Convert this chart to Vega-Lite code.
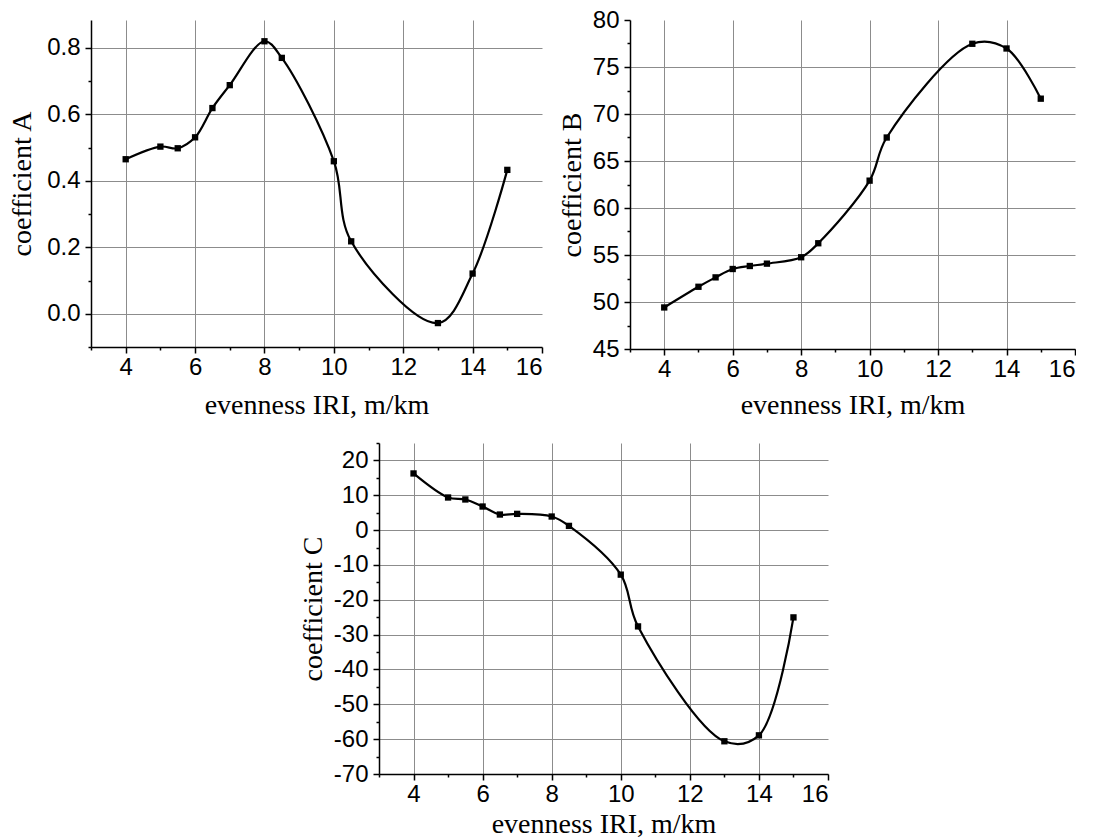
{
  "$schema": "https://vega.github.io/schema/vega-lite/v6.json",
  "background": "white",
  "padding": {"left": 8, "top": 8, "right": 0, "bottom": 0},
  "config": {
    "view": {"stroke": null},
    "axis": {
      "domainColor": "black", "domainWidth": 1.5,
      "tickColor": "black", "tickWidth": 1.5,
      "gridColor": "#8c8c8c", "gridWidth": 1,
      "labelFont": "Liberation Sans", "labelFontSize": 24, "labelColor": "black",
      "titleFont": "Liberation Serif", "titleFontSize": 28, "titleFontWeight": "normal", "titleColor": "black",
      "labelPadding": 5
    },
    "axisX": {"labelPadding": 2},
    "line": {"color": "black", "strokeWidth": 2.2, "interpolate": "catmull-rom"},
    "point": {"shape": "square", "filled": true, "color": "black", "size": 40, "opacity": 1}
  },
  "data": {"values": [
    {"iri": 4, "A": 0.465, "B": 49.42, "C": 16.26},
    {"iri": 5, "A": 0.503, "B": 51.62, "C": 9.36},
    {"iri": 5.5, "A": 0.498, "B": 52.62, "C": 8.79},
    {"iri": 6, "A": 0.531, "B": 53.51, "C": 6.77},
    {"iri": 6.5, "A": 0.619, "B": 53.83, "C": 4.47},
    {"iri": 7, "A": 0.688, "B": 54.08, "C": 4.66},
    {"iri": 8, "A": 0.82, "B": 54.76, "C": 3.9},
    {"iri": 8.5, "A": 0.77, "B": 56.25, "C": 1.21},
    {"iri": 10, "A": 0.459, "B": 62.91, "C": -12.78},
    {"iri": 10.5, "A": 0.218, "B": 67.5, "C": -27.64},
    {"iri": 13, "A": -0.028, "B": 77.47, "C": -60.61},
    {"iri": 14, "A": 0.121, "B": 76.97, "C": -58.9},
    {"iri": 15, "A": 0.433, "B": 71.63, "C": -25.05}
  ]},
  "spacing": 23,
  "vconcat": [
    {
      "spacing": 15,
      "hconcat": [
        {
          "width": 451, "height": 327,
          "encoding": {
            "x": {"field": "iri", "type": "quantitative", "scale": {"domain": [3, 16], "nice": false, "zero": false},
              "axis": {"title": "evenness IRI, m/km", "titlePadding": 12,
                "values": [3,4,5,6,7,8,9,10,11,12,13,14,15,16],
                "labelExpr": "datum.value % 2 === 0 ? datum.label : ''",
                "tickSize": {"condition": {"test": "datum.value % 2 === 1", "value": 3}, "value": 6},
                "gridOpacity": {"condition": {"test": "datum.value % 2 === 1 || datum.value === 16", "value": 0}, "value": 1}}},
            "y": {"field": "A", "type": "quantitative", "scale": {"domain": [-0.1, 0.884], "nice": false, "zero": false},
              "axis": {"title": "coefficient  A", "titlePadding": 10,
                "values": [-0.1, 0, 0.1, 0.2, 0.3, 0.4, 0.5, 0.6, 0.7, 0.8],
                "labelExpr": "round(datum.value * 10) % 2 === 0 ? format(datum.value, '.1f') : ''",
                "tickSize": {"condition": {"test": "round(datum.value * 10) % 2 !== 0", "value": 3}, "value": 6},
                "gridOpacity": {"condition": {"test": "round(datum.value * 10) % 2 !== 0", "value": 0}, "value": 1}}}
          },
          "layer": [
            {"mark": {"type": "line"}},
            {"mark": {"type": "point"}}
          ]
        },
        {
          "width": 445, "height": 329,
          "encoding": {
            "x": {"field": "iri", "type": "quantitative", "scale": {"domain": [3, 16], "nice": false, "zero": false},
              "axis": {"title": "evenness IRI, m/km", "titlePadding": 10,
                "values": [3,4,5,6,7,8,9,10,11,12,13,14,15,16],
                "labelExpr": "datum.value % 2 === 0 ? datum.label : ''",
                "tickSize": {"condition": {"test": "datum.value % 2 === 1", "value": 3}, "value": 6},
                "gridOpacity": {"condition": {"test": "datum.value % 2 === 1 || datum.value === 16", "value": 0}, "value": 1}}},
            "y": {"field": "B", "type": "quantitative", "scale": {"domain": [45, 80], "nice": false, "zero": false},
              "axis": {"title": "coefficient B", "titlePadding": 6,
                "values": [45, 47.5, 50, 52.5, 55, 57.5, 60, 62.5, 65, 67.5, 70, 72.5, 75, 77.5, 80],
                "labelExpr": "datum.value % 5 === 0 ? datum.label : ''",
                "tickSize": {"condition": {"test": "datum.value % 5 !== 0", "value": 3}, "value": 6},
                "gridOpacity": {"condition": {"test": "datum.value % 5 !== 0 || datum.value === 80", "value": 0}, "value": 1}}}
          },
          "layer": [
            {"mark": {"type": "line"}},
            {"mark": {"type": "point"}}
          ]
        }
      ]
    },
    {
      "spacing": 0,
      "hconcat": [
        {"width": 208, "height": 10, "data": {"values": [{}]}, "mark": {"type": "point", "opacity": 0}},
        {
          "width": 449, "height": 331,
          "encoding": {
            "x": {"field": "iri", "type": "quantitative", "scale": {"domain": [3, 16], "nice": false, "zero": false},
              "axis": {"title": "evenness IRI, m/km", "titlePadding": 4,
                "values": [3,4,5,6,7,8,9,10,11,12,13,14,15,16],
                "labelExpr": "datum.value % 2 === 0 ? datum.label : ''",
                "tickSize": {"condition": {"test": "datum.value % 2 === 1", "value": 3}, "value": 6},
                "gridOpacity": {"condition": {"test": "datum.value % 2 === 1 || datum.value === 16", "value": 0}, "value": 1}}},
            "y": {"field": "C", "type": "quantitative", "scale": {"domain": [-70, 25], "nice": false, "zero": false},
              "axis": {"title": "coefficient C", "titlePadding": 6,
                "values": [-70, -65, -60, -55, -50, -45, -40, -35, -30, -25, -20, -15, -10, -5, 0, 5, 10, 15, 20, 25],
                "labelExpr": "datum.value % 10 === 0 ? '' + datum.value : ''",
                "tickSize": {"condition": {"test": "datum.value % 10 !== 0", "value": 3}, "value": 6},
                "gridOpacity": {"condition": {"test": "datum.value % 10 !== 0", "value": 0}, "value": 1}}}
          },
          "layer": [
            {"mark": {"type": "line"}},
            {"mark": {"type": "point"}}
          ]
        }
      ]
    }
  ]
}
